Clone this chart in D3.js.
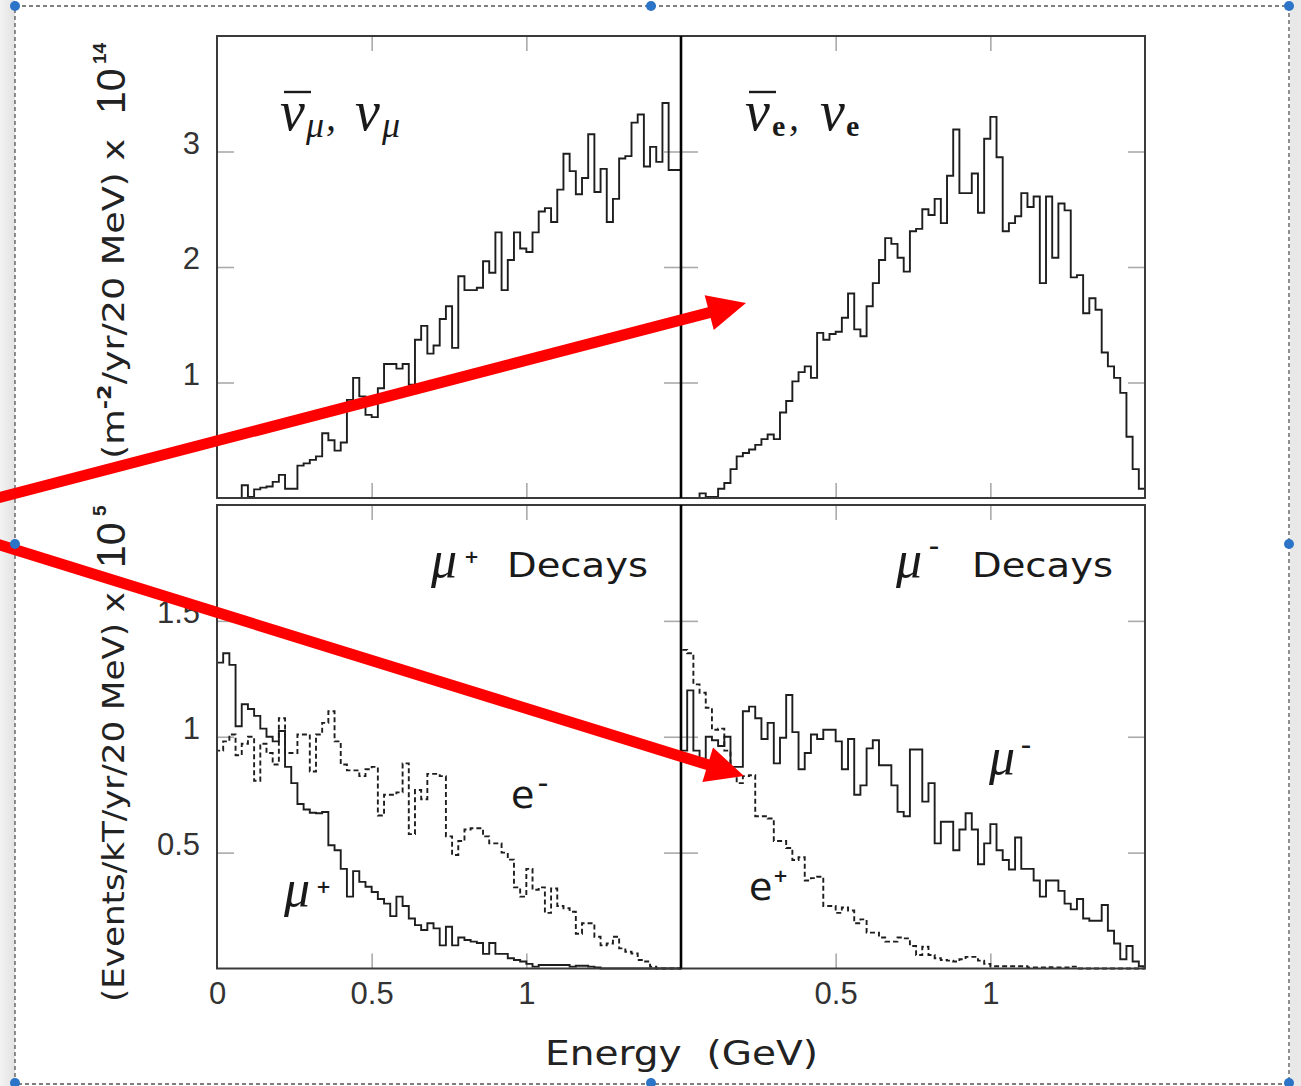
<!DOCTYPE html>
<html><head><meta charset="utf-8">
<script src="https://cdn.jsdelivr.net/npm/d3@7"></script>
<style>body{margin:0;background:#fff}</style>
</head><body>
<svg id="c" width="1301" height="1086" xmlns="http://www.w3.org/2000/svg"></svg>
<script>
// ---------------- DATA ----------------
const binWidth = 0.02;            // GeV (20 MeV bins)
const nBins = 75;                 // 0 .. 1.5 GeV
const binStarts = d3.range(nBins).map(i => +(i * binWidth).toFixed(2));

// top-left: anti-nu_mu, nu_mu flux (x 1e14 m^-2/yr/20 MeV)
const numuFlux = [0,0,0,0,0.11,0.01,0.075,0.09,0.10,0.14,0.20,0.08,0.08,0.28,0.30,0.33,0.36,0.56,0.50,0.41,
  0.48,0.85,1.04,0.88,0.72,0.70,0.95,1.16,1.16,1.12,1.16,0.98,1.37,1.49,1.25,1.32,1.55,1.66,1.30,1.92,
  1.80,1.80,1.82,2.05,1.95,2.30,1.80,2.06,2.30,2.16,2.13,2.30,2.48,2.51,2.39,2.67,2.98,2.83,2.63,2.77,
  3.15,2.65,2.85,2.39,2.59,2.94,2.96,3.25,3.32,2.87,3.04,2.91,3.42,2.84,2.84];
// top-right: anti-nu_e, nu_e flux
const nueFlux = [0,0,0,0.04,0.01,0.01,0.08,0.13,0.25,0.36,0.39,0.42,0.46,0.51,0.55,0.51,0.74,0.84,1.01,1.09,
  1.14,1.04,1.43,1.37,1.42,1.44,1.56,1.77,1.46,1.40,1.66,1.86,2.06,2.25,2.20,2.08,1.96,2.31,2.33,2.50,
  2.45,2.59,2.38,2.79,3.19,2.64,2.64,2.81,2.47,3.11,3.30,2.95,2.31,2.38,2.44,2.64,2.52,2.61,1.86,2.61,
  2.08,2.55,2.49,1.91,1.93,1.60,1.73,1.63,1.26,1.14,1.04,0.91,0.53,0.25,0.08];
// bottom-left: mu+ decays, mu+ events (solid) and e- events (dashed)  (x 1e5 events/kT/yr/20 MeV)
const muPlusEvents = [1.32,1.36,1.31,1.045,1.14,1.12,1.09,1.035,1.0,0.98,1.025,0.87,0.80,0.71,0.686,0.672,0.67,0.675,0.532,0.51,
  0.43,0.31,0.42,0.374,0.353,0.33,0.30,0.28,0.226,0.31,0.27,0.216,0.187,0.166,0.195,0.173,0.10,0.18,0.10,0.134,
  0.123,0.116,0.11,0.063,0.11,0.063,0.063,0.044,0.037,0.03,0.02,0.008,0.015,0.015,0.015,0.015,0.015,0.008,0.012,0.012,
  0.008,0.005,0,0,0,0,0,0,0,0,0,0,0,0,0];
const eMinusEvents = [0.94,0.98,1.01,0.92,0.97,1.0,0.81,0.97,0.93,0.88,1.08,0.93,0.93,1.01,1.01,0.85,1.01,1.06,1.11,0.98,
  0.88,0.855,0.855,0.83,0.86,0.87,0.66,0.75,0.75,0.76,0.885,0.58,0.77,0.73,0.84,0.84,0.83,0.57,0.49,0.55,
  0.60,0.605,0.605,0.57,0.54,0.54,0.50,0.47,0.35,0.31,0.43,0.34,0.35,0.24,0.345,0.27,0.26,0.245,0.15,0.195,
  0.195,0.137,0.10,0.108,0.137,0.087,0.072,0.065,0.037,0.03,0.008,0,0,0,0];
// bottom-right: mu- decays, mu- events (solid) and e+ events (dashed)
const muMinusEvents = [0.94,1.20,0.94,0.905,1.0,0.985,0.96,1.0,0.87,0.87,1.11,1.13,1.08,0.99,1.06,0.885,0.996,1.18,1.02,0.86,
  0.93,1.01,0.99,1.03,1.03,0.98,0.86,0.99,0.75,0.79,0.95,0.985,0.877,0.877,0.79,0.676,0.657,0.945,0.945,0.72,
  0.80,0.54,0.633,0.633,0.51,0.60,0.67,0.60,0.45,0.54,0.623,0.51,0.468,0.427,0.565,0.43,0.43,0.38,0.31,0.38,
  0.38,0.335,0.28,0.255,0.30,0.216,0.206,0.206,0.274,0.163,0.108,0.04,0.097,0.03,0.01];
const ePlusEvents = [1.375,1.36,1.226,1.19,1.125,1.03,1.035,0.94,0.84,0.80,0.83,0.834,0.657,0.657,0.647,0.55,0.55,0.52,0.468,0.48,
  0.38,0.39,0.396,0.27,0.27,0.24,0.263,0.25,0.195,0.212,0.155,0.155,0.134,0.116,0.116,0.134,0.13,0.097,0.058,0.094,
  0.058,0.044,0.037,0.034,0.03,0.04,0.05,0.05,0.034,0.02,0.01,0.01,0.01,0.01,0.01,0.01,0.005,0.005,0.005,0.006,
  0.005,0.005,0.005,0.008,0,0,0,0,0,0,0,0,0,0,0];

// ticks / labels
const xTickValues = [0, 0.5, 1];
const xTickValuesRight = [0.5, 1];
const xInnerTicks = [0.5, 1];
const yTopTicks = [1, 2, 3];
const yBotTicks = [0.5, 1, 1.5];

// ---------------- LAYOUT ----------------
const svg = d3.select("#c");
const X0 = 217, XM = 681, X1 = 1145;
const TY0 = 36, TY1 = 498, BY0 = 505, BY1 = 968.5;

// background decorations (slide selection box)
const defs = svg.append("defs");
const gr = defs.append("linearGradient").attr("id","lg").attr("x1","0").attr("x2","1");
gr.append("stop").attr("offset","0").attr("stop-color","#f3f3f3");
gr.append("stop").attr("offset","1").attr("stop-color","#e2e2e2");
svg.append("rect").attr("x",0).attr("y",0).attr("width",1301).attr("height",1086).attr("fill","#fff");
svg.append("rect").attr("x",0).attr("y",0).attr("width",15).attr("height",1086).attr("fill","url(#lg)");
svg.append("rect").attr("x",1290).attr("y",0).attr("width",11).attr("height",1086).attr("fill","#e8e8e8");
svg.append("rect").attr("x",15).attr("y",6).attr("width",1274).attr("height",1078)
  .attr("fill","none").attr("stroke","#555").attr("stroke-width",1.3).attr("stroke-dasharray","4,3");

const xL = d3.scaleLinear().domain([0,1.5]).range([X0, XM]);
const xR = d3.scaleLinear().domain([0,1.5]).range([XM, X1]);
const yT = d3.scaleLinear().domain([0,4]).range([TY1, TY0]);
const yB = d3.scaleLinear().domain([0,2]).range([BY1, BY0]);

const panels = [
  {x: xL, y: yT, x0: X0, x1: XM, y0: TY0, y1: TY1, yt: yTopTicks},
  {x: xR, y: yT, x0: XM, x1: X1, y0: TY0, y1: TY1, yt: yTopTicks},
  {x: xL, y: yB, x0: X0, x1: XM, y0: BY0, y1: BY1, yt: yBotTicks},
  {x: xR, y: yB, x0: XM, x1: X1, y0: BY0, y1: BY1, yt: yBotTicks}
];

// inner ticks on all four sides
panels.forEach(p => {
  const g = svg.append("g").attr("class","innerticks");
  g.append("g").attr("transform",`translate(${p.x0},0)`).call(d3.axisLeft(p.y).tickValues(p.yt).tickSize(-17).tickFormat(""));
  g.append("g").attr("transform",`translate(${p.x1},0)`).call(d3.axisRight(p.y).tickValues(p.yt).tickSize(-17).tickFormat(""));
  g.append("g").attr("transform",`translate(0,${p.y0})`).call(d3.axisTop(p.x).tickValues(xInnerTicks).tickSize(-15).tickFormat(""));
  g.append("g").attr("transform",`translate(0,${p.y1})`).call(d3.axisBottom(p.x).tickValues(xInnerTicks).tickSize(-15).tickFormat(""));
  g.selectAll(".domain").remove();
  g.selectAll("line").attr("stroke","#aaa").attr("stroke-width",1.6);
});

// histograms
function stepPoints(vals){
  const pts = [[0,0]];
  vals.forEach((v,i) => { pts.push([binStarts[i], v]); pts.push([binStarts[i] + binWidth, v]); });
  pts.push([binStarts[nBins-1] + binWidth, 0]);
  return pts;
}
function drawHist(p, vals, dashed){
  const line = d3.line().x(d => p.x(d[0])).y(d => p.y(d[1]));
  svg.append("path").attr("d", line(stepPoints(vals)))
    .attr("fill","none").attr("stroke","#1e1e1e").attr("stroke-width",1.9)
    .attr("stroke-linejoin","miter")
    .attr("stroke-dasharray", dashed ? "5,3" : null);
}
drawHist(panels[0], numuFlux, false);
drawHist(panels[1], nueFlux, false);
drawHist(panels[2], eMinusEvents, true);
drawHist(panels[2], muPlusEvents, false);
drawHist(panels[3], ePlusEvents, true);
drawHist(panels[3], muMinusEvents, false);

// frames
[[X0,TY0,XM,TY1],[XM,TY0,X1,TY1],[X0,BY0,XM,BY1],[XM,BY0,X1,BY1]].forEach(r => {
  svg.append("rect").attr("x",r[0]).attr("y",r[1]).attr("width",r[2]-r[0]).attr("height",r[3]-r[1])
    .attr("fill","none").attr("stroke","#3a3a3a").attr("stroke-width",2);
});
[[TY0,TY1],[BY0,BY1]].forEach(r => {
  svg.append("line").attr("x1",XM).attr("x2",XM).attr("y1",r[0]).attr("y2",r[1])
    .attr("stroke","#000").attr("stroke-width",2.6);
});

// tick labels
const tickFont = "'Liberation Sans', Arial, sans-serif";
function styleLabels(g){
  g.select(".domain").remove();
  g.selectAll("text").attr("font-family",tickFont).attr("font-size",31).attr("fill","#333");
}
svg.append("g").attr("transform",`translate(${X0},0)`)
  .call(d3.axisLeft(yT).tickValues(yTopTicks).tickSize(0).tickPadding(17).tickFormat(d => d))
  .call(styleLabels).selectAll("text").attr("y",-8);
svg.append("g").attr("transform",`translate(${X0},0)`)
  .call(d3.axisLeft(yB).tickValues(yBotTicks).tickSize(0).tickPadding(17).tickFormat(d => d))
  .call(styleLabels).selectAll("text").attr("y",-8);
svg.append("g").attr("transform",`translate(0,${BY1})`)
  .call(d3.axisBottom(xL).tickValues(xTickValues).tickSize(0).tickPadding(13).tickFormat(d => d))
  .call(styleLabels);
svg.append("g").attr("transform",`translate(0,${BY1})`)
  .call(d3.axisBottom(xR).tickValues(xTickValuesRight).tickSize(0).tickPadding(13).tickFormat(d => d))
  .call(styleLabels);

// x axis title
svg.append("text").attr("x",545).attr("y",1065)
  .attr("font-family","'DejaVu Sans', sans-serif").attr("font-size",34).attr("fill","#222")
  .attr("textLength",273).attr("lengthAdjust","spacingAndGlyphs")
  .attr("xml:space","preserve")
  .text("Energy  (GeV)");

// y axis titles (rotated)
const condFont = "'Liberation Sans Narrow','DejaVu Sans Condensed','Arial Narrow',sans-serif";
function yTitle(parts){
  const g = svg.append("g").attr("transform","translate(124,0) rotate(-90)");
  const t = g.append("text").attr("x",-parts.start).attr("y",0)
    .attr("font-family",condFont).attr("font-stretch","condensed").attr("font-size",31).attr("fill","#222")
    .attr("textLength",parts.len).attr("lengthAdjust","spacingAndGlyphs");
  parts.pieces.forEach(pc => {
    const ts = t.append("tspan").text(pc.t);
    if (pc.sup) ts.attr("font-size",19).attr("font-weight","bold").attr("baseline-shift","70%");
  });
  g.append("text").attr("x",-parts.tenStart).attr("y",1)
    .attr("font-family","'Liberation Sans', Arial, sans-serif").attr("font-size",41).attr("fill","#222")
    .text("10");
  g.append("text").attr("x",-parts.expStart).attr("y",-18)
    .attr("font-family","'Liberation Sans', Arial, sans-serif").attr("font-size",19).attr("font-weight","bold").attr("fill","#222")
    .text(parts.exp);
}
yTitle({start:459, len:320, tenStart:114, expStart:64, exp:"14",
  pieces:[{t:"(m"},{t:"-2",sup:true},{t:"/yr/20 MeV) x"}]});
yTitle({start:1002, len:410, tenStart:568, expStart:516, exp:"5",
  pieces:[{t:"(Events/kT/yr/20 MeV) x"}]});

// panel labels
const serif = "'Liberation Serif','Times New Roman',serif";
const sans = "'DejaVu Sans', sans-serif";
function txt(x,y,s,font,size,opts={}){
  const t = svg.append("text").attr("x",x).attr("y",y).attr("font-family",font).attr("font-size",size)
    .attr("fill","#1a1a1a").text(s);
  if (opts.italic) t.attr("font-style","italic");
  if (opts.bold) t.attr("font-weight","bold");
  if (opts.len) t.attr("textLength",opts.len).attr("lengthAdjust","spacingAndGlyphs");
  return t;
}
// top-left: nu_mu bar, nu_mu
txt(280,130,"\u03BD",serif,56,{italic:true});
svg.append("line").attr("x1",284).attr("x2",311).attr("y1",92).attr("y2",92).attr("stroke","#1a1a1a").attr("stroke-width",2.4);
txt(306,137,"\u03BC",serif,36,{italic:true});
txt(326,130,",",serif,40,{italic:true});
txt(355,130,"\u03BD",serif,56,{italic:true});
txt(382,137,"\u03BC",serif,36,{italic:true});
// top-right: nu_e bar, nu_e
txt(745,130,"\u03BD",serif,56,{italic:true});
svg.append("line").attr("x1",749).attr("x2",776).attr("y1",92).attr("y2",92).attr("stroke","#1a1a1a").attr("stroke-width",2.4);
txt(772,136,"e",serif,30,{bold:true});
txt(789,130,",",serif,40,{italic:true});
txt(820,130,"\u03BD",serif,56,{italic:true});
txt(846,136,"e",serif,30,{bold:true});

// decays labels
txt(431,577,"\u03BC",serif,52,{italic:true});
txt(464,563,"+",sans,18,{bold:true});
txt(507,577,"Decays",sans,33,{len:141});
txt(896,577,"\u03BC",serif,52,{italic:true});
txt(929,553,"\u2013",sans,20,{bold:true});
txt(972,577,"Decays",sans,33,{len:141});

// curve labels
txt(511,808,"e",sans,38);
txt(538,790,"\u2013",sans,20,{bold:true});
txt(284,906,"\u03BC",serif,52,{italic:true});
txt(316,893,"+",sans,18,{bold:true});
txt(989,774,"\u03BC",serif,52,{italic:true});
txt(1021,752,"\u2013",sans,20,{bold:true});
txt(749,900,"e",sans,38);
txt(773,882,"+",sans,18,{bold:true});

// red annotation arrows
function arrow(x0,y0,tipX,tipY){
  const dx = tipX-x0, dy = tipY-y0, L = Math.hypot(dx,dy);
  const ux = dx/L, uy = dy/L, px = -uy, py = ux;
  const hl = 38, hw = 18;
  const bx = tipX-ux*hl, by = tipY-uy*hl;
  svg.append("line").attr("x1",x0).attr("y1",y0).attr("x2",bx+ux*2).attr("y2",by+uy*2)
    .attr("stroke","#ff0000").attr("stroke-width",11);
  svg.append("polygon").attr("points",[[tipX,tipY],[bx+px*hw,by+py*hw],[bx-px*hw,by-py*hw]].map(p=>p.join(",")).join(" "))
    .attr("fill","#ff0000");
}
arrow(-10, 500, 746, 303);
arrow(-10, 542, 744, 776);

// selection handles
[[15,6],[651,6],[1289,6],[15,544],[1289,544],[15,1083],[651,1083],[1289,1083]].forEach(h => {
  svg.append("circle").attr("cx",h[0]).attr("cy",h[1]).attr("r",5).attr("fill","#2b74c8");
});
</script>
</body></html>
